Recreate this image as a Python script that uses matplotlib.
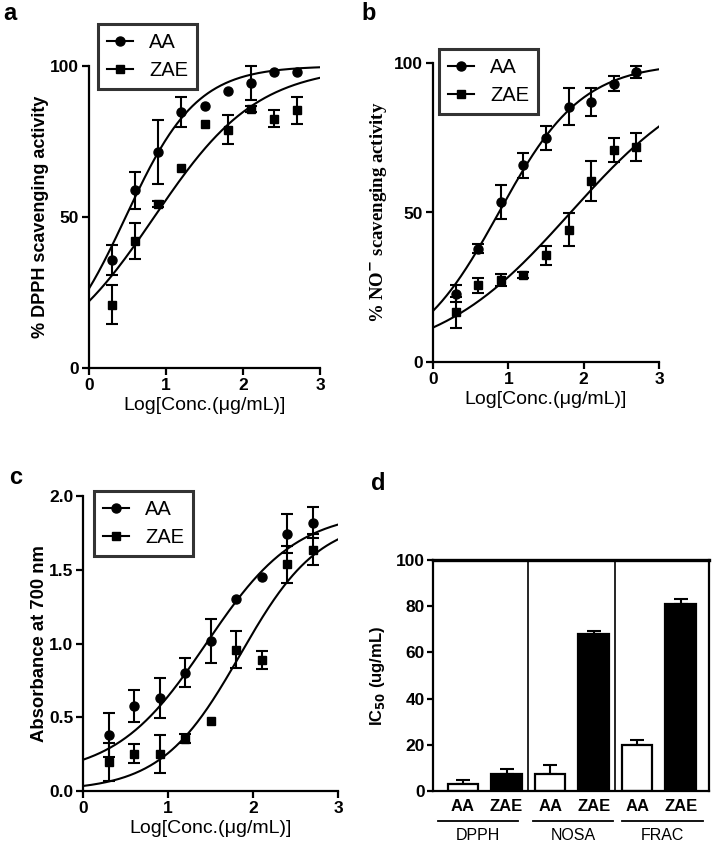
import numpy as np
import matplotlib
matplotlib.use("Agg")
import matplotlib.pyplot as plt
from matplotlib.lines import Line2D

plt.rcParams['font.family'] = ['Liberation Sans', 'DejaVu Sans']

# ---------------- data ----------------
log_conc = [0.3, 0.6, 0.9, 1.2, 1.5, 1.8, 2.1, 2.4, 2.7]

# panel a: DPPH
dpph_aa = [35.7, 58.8, 71.5, 84.8, 86.8, 91.7, 94.4, 98.0, 98.0]
dpph_aa_err = [5.0, 6.0, 10.5, 5.0, np.nan, np.nan, 5.5, np.nan, np.nan]
dpph_zae = [21.0, 42.0, 54.4, 66.2, 80.7, 78.9, 85.7, 82.6, 85.3]
dpph_zae_err = [6.5, 6.0, 1.0, np.nan, np.nan, 4.8, 1.0, 2.8, 4.6]
# fitted curve params (bottom, top, logEC50, hill)
dpph_aa_fit = (0, 100, 0.476, 0.94)
dpph_zae_fit = (0, 100, 0.847, 0.646)

# panel b: NO scavenging
no_aa = [22.9, 37.9, 53.5, 65.8, 74.9, 85.3, 87.0, 93.1, 97.0]
no_aa_err = [2.8, 1.5, 5.8, 4.2, 4.0, 6.2, 4.6, 2.6, 2.0]
no_zae = [16.7, 25.6, 27.5, 29.2, 35.7, 44.3, 60.5, 71.0, 71.9]
no_zae_err = [5.2, 2.6, 2.0, 1.0, 3.2, 5.6, 6.7, 4.0, 4.7]
no_aa_fit = (0, 100, 0.874, 0.785)
no_zae_fit = (0, 100, 1.826, 0.485)

# panel c: reducing power
abs_aa = [0.382, 0.576, 0.631, 0.802, 1.017, 1.304, 1.451, 1.745, 1.819]
abs_aa_err = [0.15, 0.107, 0.135, 0.1, 0.147, np.nan, np.nan, 0.13, 0.104]
abs_zae = [0.197, 0.253, 0.253, 0.355, 0.475, 0.958, 0.890, 1.537, 1.636]
abs_zae_err = [0.127, 0.065, 0.13, 0.03, np.nan, 0.126, 0.06, 0.126, 0.107]
abs_aa_fit = (0.1, 1.9, 1.45, 0.813)
abs_zae_fit = (0.0, 1.85, 1.85, 0.934)

# panel d: IC50
assays = ['DPPH', 'NOSA', 'FRAC']
samples = ['AA', 'ZAE']
ic50 = [3.2, 7.5, 7.5, 67.9, 19.7, 80.9]
ic50_err = [1.7, 1.9, 3.6, 1.5, 2.3, 2.2]


def logistic(x, p):
    b, t, l, h = p
    return b + (t - b) / (1 + 10 ** ((l - x) * h))


W, H = 712, 847
fig = plt.figure(figsize=(W / 100, H / 100), dpi=100)
TICK_FS = 12.5


def ax_rect(l, r, t, b):
    return [l / W, (H - b) / H, (r - l) / W, (b - t) / H]


def style_axes(ax):
    for s in ['top', 'right']:
        ax.spines[s].set_visible(False)
    for s in ['left', 'bottom']:
        ax.spines[s].set_linewidth(1.6)
    ax.tick_params(direction='out', length=5, width=1.6, labelsize=TICK_FS, pad=2)


def bold_ticks(ax):
    for lab in ax.get_xticklabels() + ax.get_yticklabels():
        lab.set_fontweight('bold')


def curve_panel(ax, y1, e1, f1, y2, e2, f2, ylim, yticks, yticklabels, ylabel, ylabel_kw, leg_anchor):
    xs = np.linspace(0, 3, 300)
    ax.plot(xs, logistic(xs, f1), color='black', lw=1.5)
    ax.plot(xs, logistic(xs, f2), color='black', lw=1.5)
    ax.errorbar(log_conc, y1, yerr=e1, fmt='o', color='black', ms=6.5,
                elinewidth=1.5, capsize=4, capthick=1.5, clip_on=False)
    ax.errorbar(log_conc, y2, yerr=e2, fmt='s', color='black', ms=6,
                elinewidth=1.5, capsize=4, capthick=1.5, clip_on=False)
    ax.set_xlim(0, 3)
    ax.set_ylim(*ylim)
    ax.set_xticks([0, 1, 2, 3])
    ax.set_yticks(yticks)
    ax.set_yticklabels(yticklabels)
    ax.set_xlabel('Log[Conc.(μg/mL)]', fontsize=14, labelpad=3)
    ax.set_ylabel(ylabel, **ylabel_kw)
    style_axes(ax)
    bold_ticks(ax)
    handles = [Line2D([], [], color='black', marker='o', ms=6.5, lw=1.5),
               Line2D([], [], color='black', marker='s', ms=6, lw=1.5)]
    leg = ax.legend(handles, ['AA', 'ZAE'], loc='upper left',
                    bbox_to_anchor=leg_anchor, bbox_transform=fig.transFigure,
                    fontsize=14.5, frameon=True, fancybox=False,
                    handlelength=1.3, borderpad=0.45, labelspacing=0.45,
                    handletextpad=0.8, borderaxespad=0)
    leg.get_frame().set_edgecolor('black')
    leg.get_frame().set_linewidth(2.2)


# panel a
axa = fig.add_axes(ax_rect(89, 320, 66, 368))
curve_panel(axa, dpph_aa, dpph_aa_err, dpph_aa_fit, dpph_zae, dpph_zae_err, dpph_zae_fit,
            (0, 100), [0, 50, 100], ['0', '50', '100'], '% DPPH scavenging activity',
            dict(fontsize=13, fontweight='bold', labelpad=1),
            (98 / W, 1 - 24 / H))

# panel b
axb = fig.add_axes(ax_rect(433, 659, 63, 362))
curve_panel(axb, no_aa, no_aa_err, no_aa_fit, no_zae, no_zae_err, no_zae_fit,
            (0, 100), [0, 50, 100], ['0', '50', '100'], '% NO$^{\\mathbf{-}}$ scavenging activity',
            dict(fontsize=13.5, fontweight='bold', family='Liberation Serif', labelpad=3),
            (439 / W, 1 - 49 / H))

# panel c
axc = fig.add_axes(ax_rect(83, 338, 496, 791))
curve_panel(axc, abs_aa, abs_aa_err, abs_aa_fit, abs_zae, abs_zae_err, abs_zae_fit,
            (0, 2.0), [0, 0.5, 1.0, 1.5, 2.0], ['0.0', '0.5', '1.0', '1.5', '2.0'],
            'Absorbance at 700 nm',
            dict(fontsize=13.3, fontweight='bold', labelpad=1),
            (94 / W, 1 - 491 / H))

# panel d
axd = fig.add_axes(ax_rect(433, 709, 560, 791))
pos = np.arange(len(ic50))
colors = ['white', 'black'] * 3
axd.bar(pos, ic50, width=0.7, color=colors, edgecolor='black', linewidth=1.6, zorder=2)
for p, v, e in zip(pos, ic50, ic50_err):
    axd.errorbar([p], [v], yerr=[[0], [e]], fmt='none', ecolor='black',
                 elinewidth=1.5, capsize=5, capthick=1.5, zorder=1)
axd.set_xlim(-0.69, 5.65)
axd.set_ylim(0, 100)
axd.set_yticks([0, 20, 40, 60, 80, 100])
axd.set_xticks(pos)
axd.set_xticklabels(samples * 3)
axd.tick_params(axis='x', length=0, pad=6, labelsize=12)
axd.tick_params(axis='y', direction='out', length=4, width=1.6, labelsize=TICK_FS, pad=2)
bold_ticks(axd)
for s in ['left', 'bottom', 'right']:
    axd.spines[s].set_linewidth(1.6)
axd.spines['top'].set_linewidth(2.4)
for sep in [1.5, 3.5]:
    axd.axvline(sep, color='black', lw=1.2)
axd.set_ylabel('IC$_{\\mathbf{50}}$ (ug/mL)', fontsize=12, fontweight='bold', labelpad=6)

# group lines and labels
line_spans = [(438, 518), (533, 613), (622, 703)]
for (x0, x1), name in zip(line_spans, assays):
    fig.add_artist(Line2D([x0 / W, x1 / W], [1 - 821 / H, 1 - 821 / H],
                          color='black', lw=1.3, transform=fig.transFigure))
    fig.text((x0 + x1) / 2 / W, 1 - 835 / H, name, ha='center', va='center', fontsize=11.5)

# panel letters
for x, y, t in [(10, 14, 'a'), (369, 14, 'b'), (16, 477, 'c'), (378, 483, 'd')]:
    fig.text(x / W, 1 - y / H, t, ha='center', va='center', fontsize=17, fontweight='bold')

fig.savefig('out.png', dpi=100)
